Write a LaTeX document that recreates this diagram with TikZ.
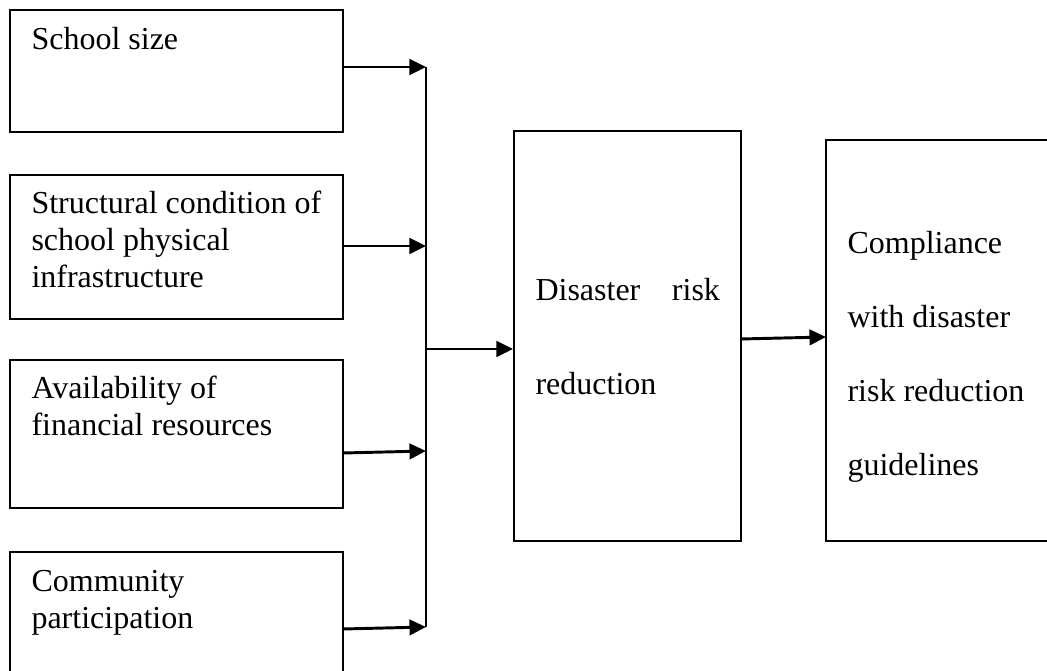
\documentclass[tikz,border=0pt]{standalone}
\usepackage{fontspec}
\setmainfont{Liberation Serif}
\usepackage{tikz}
\usetikzlibrary{arrows.meta,fit}

\tikzset{
	box/.style={draw, line width=0.75pt, inner sep=0pt},
	lbl/.style={inner sep=0pt, align=left, anchor=base west},
	arr/.style={-{Triangle[length=6.2pt,width=5.8pt]}, line width=1.1pt}
}

\begin{document}
\begin{tikzpicture}[x=0.375pt,y=-0.375pt]
	
	\useasboundingbox (0,0) rectangle (1047,671);
	\clip (0,0) rectangle (1047,671);
	
	\node[box, fit={(10,10) (343,132)}] (size) {};
	\node[box, fit={(10,175) (343,319)}] (struct) {};
	\node[box, fit={(10,360) (343,508)}] (finance) {};
	\node[box, fit={(10,552) (343,700)}] (community) {};
	\node[box, fit={(514,131) (741,541)}] (drr) {};
	\node[box, fit={(826,140) (1080,541)}] (comply) {};
	
	% base anchor sits on the last line
	\node[lbl, font=\fontsize{12pt}{14.06pt}\selectfont] (sizetxt) at (31,50) {School size};
	\node[lbl, font=\fontsize{12pt}{14.06pt}\selectfont] (structtxt) at (31,288) {Structural condition of\\school physical\\infrastructure};
	\node[lbl, font=\fontsize{12pt}{14.06pt}\selectfont] (financetxt) at (31,436) {Availability of\\financial resources};
	\node[lbl, font=\fontsize{12pt}{14.06pt}\selectfont] (communitytxt) at (31,629) {Community\\participation};
	\node[lbl, font=\fontsize{12pt}{35.25pt}\selectfont] (drrtxt) at (535,395) {Disaster\hspace{11.85pt}risk\\reduction};
	\node[lbl, font=\fontsize{12pt}{27.75pt}\selectfont] (complytxt) at (847,476) {Compliance\\with disaster\\risk reduction\\guidelines};
	
	\coordinate (s1) at (343,67);
	\coordinate (s2) at (343,246);
	\coordinate (s3) at (343,453);
	\coordinate (s4) at (343,629);
	\coordinate (j1) at (426,67);
	\coordinate (j2) at (426,246);
	\coordinate (j3) at (426,451);
	\coordinate (j4) at (426,627);
	\coordinate (jm) at (426,349);
	\coordinate (o1) at (741,339);
	\coordinate (o2) at (826,337);
	
	\draw[line width=0.75pt] (j1) -- (j4);
	\draw[arr] (s1) -- (j1);
	\draw[arr] (s2) -- (j2);
	\draw[arr] (s3) -- (j3);
	\draw[arr] (s4) -- (j4);
	\draw[arr] (jm) -- (drr.west |- jm);
	\draw[arr] (o1) -- (o2);
	
\end{tikzpicture}
\end{document}
